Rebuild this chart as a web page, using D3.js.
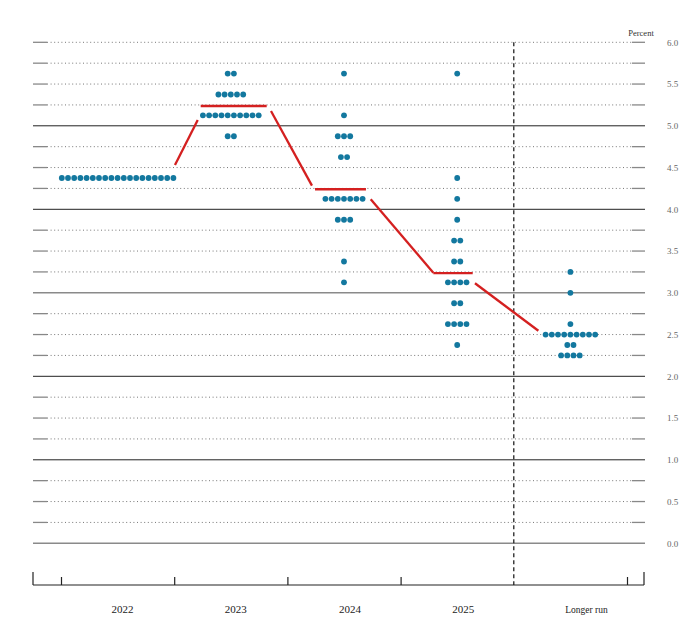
<!DOCTYPE html>
<html>
<head>
<meta charset="utf-8">
<script src="https://cdn.jsdelivr.net/npm/d3@7"></script>
<style>
  html, body { margin: 0; padding: 0; background: #fff; }
  svg { display: block; }
</style>
</head>
<body>
<svg id="chart" width="699" height="630"></svg>
<script>
// ---------- DATA ----------
const categories = ["2022", "2023", "2024", "2025", "Longer run"];

// Participant projections: rate levels and number of participants at each level
const rates2022 = [4.375];
const counts2022 = [19];
const rates2023 = [5.625, 5.375, 5.125, 4.875];
const counts2023 = [2, 5, 10, 2];
const rates2024 = [5.625, 5.125, 4.875, 4.625, 4.125, 3.875, 3.375, 3.125];
const counts2024 = [1, 1, 3, 2, 7, 3, 1, 1];
const rates2025 = [5.625, 4.375, 4.125, 3.875, 3.625, 3.375, 3.125, 2.875, 2.625, 2.375];
const counts2025 = [1, 1, 1, 1, 2, 2, 4, 2, 4, 1];
const ratesLR = [3.25, 3.0, 2.625, 2.5, 2.375, 2.25];
const countsLR = [1, 1, 1, 9, 2, 4];

// Median line (red): x in category units (0 = start of 2022, 1 = start of 2023, ...), y in percent
const medianSegX = [[1.007, 1.208], [1.234, 1.817], [1.855, 2.217], [2.244, 2.694], [2.736, 3.289], [3.289, 3.637], [3.657, 4.217]];
const medianSegY = [[4.531, 5.070], [5.237, 5.237], [5.177, 4.283], [4.240, 4.240], [4.120, 3.241], [3.235, 3.235], [3.114, 2.546]];

// Axis ticks
const yTickLabels = ["0.0","0.5","1.0","1.5","2.0","2.5","3.0","3.5","4.0","4.5","5.0","5.5","6.0"];
const gridValues = d3.range(0, 25).map(i => i * 0.25);

// ---------- DRAW ----------
const svg = d3.select("#chart");
const x = d3.scaleLinear().domain([0, 5]).range([61, 627]);
const y = d3.scaleLinear().domain([0, 6]).range([543.3, 42.3]);

const gridLeft = 33, gridRight = 645;

// Gridlines
const grid = svg.append("g");
gridValues.forEach(v => {
  const yy = y(v);
  const isInt = Math.abs(v - Math.round(v)) < 1e-9;
  if (isInt && v < 6) {
    const light = (v === 3 || v === 0);
    grid.append("line")
      .attr("x1", gridLeft).attr("x2", gridRight)
      .attr("y1", yy).attr("y2", yy)
      .attr("stroke", light ? "#8a8a8a" : "#222")
      .attr("stroke-width", light ? 1.4 : 1);
  } else {
    grid.append("line")
      .attr("x1", gridLeft + 14).attr("x2", gridRight - 13)
      .attr("y1", yy).attr("y2", yy)
      .attr("stroke", "#777")
      .attr("stroke-width", 1)
      .attr("stroke-dasharray", "1,2.6");
    grid.append("line")
      .attr("x1", gridLeft).attr("x2", gridLeft + 14)
      .attr("y1", yy).attr("y2", yy)
      .attr("stroke", "#888").attr("stroke-width", 1.3);
    grid.append("line")
      .attr("x1", gridRight - 13).attr("x2", gridRight)
      .attr("y1", yy).attr("y2", yy)
      .attr("stroke", "#888").attr("stroke-width", 1.3);
  }
});

// Right axis labels
const yAxis = d3.axisRight(y)
  .tickValues(yTickLabels.map(Number))
  .tickFormat(d3.format(".1f"))
  .tickSize(0);
const yAxisG = svg.append("g").attr("transform", "translate(667,0)").call(yAxis);
yAxisG.select(".domain").remove();
yAxisG.selectAll("text")
  .attr("x", 0)
  .attr("font-family", "Liberation Serif, serif")
  .attr("font-size", 9)
  .attr("fill", "#666");

svg.append("text")
  .attr("x", 641).attr("y", 35.5)
  .attr("text-anchor", "middle")
  .attr("font-family", "Liberation Serif, serif")
  .attr("font-size", 8.5)
  .attr("fill", "#333")
  .text("Percent");

// Vertical dashed separator before "Longer run"
svg.append("line")
  .attr("x1", x(4)).attr("x2", x(4))
  .attr("y1", y(6)).attr("y2", 585)
  .attr("stroke", "#111")
  .attr("stroke-width", 1.2)
  .attr("stroke-dasharray", "4,3");

// Bottom axis
const baseY = 585;
svg.append("line")
  .attr("x1", gridLeft).attr("x2", gridRight - 1)
  .attr("y1", baseY).attr("y2", baseY)
  .attr("stroke", "#222").attr("stroke-width", 1.2);
[gridLeft, gridRight - 1].forEach(xx => {
  svg.append("line")
    .attr("x1", xx).attr("x2", xx)
    .attr("y1", baseY - 13).attr("y2", baseY)
    .attr("stroke", "#222").attr("stroke-width", 1.2);
});
const xAxis = d3.axisBottom(x).tickValues([0, 1, 2, 3, 5]).tickSize(-8).tickFormat("");
const xAxisG = svg.append("g").attr("transform", `translate(0,${baseY})`).call(xAxis);
xAxisG.select(".domain").remove();
xAxisG.selectAll("line").attr("stroke", "#222").attr("stroke-width", 1.2);

// Category labels
const labelDx = [5, 5, 6, 6, 16];
svg.append("g").selectAll("text")
  .data(categories)
  .join("text")
  .attr("x", (d, i) => x(i + 0.5) + labelDx[i])
  .attr("y", 613)
  .attr("text-anchor", "middle")
  .attr("font-family", "Liberation Serif, serif")
  .attr("font-size", d => d === "Longer run" ? 9.5 : 11)
  .attr("fill", "#222")
  .text(d => d);

// Red median line
svg.append("g").selectAll("line")
  .data(medianSegX.map((sx, i) => ({ sx, sy: medianSegY[i] })))
  .join("line")
  .attr("x1", d => x(d.sx[0])).attr("x2", d => x(d.sx[1]))
  .attr("y1", d => y(d.sy[0])).attr("y2", d => y(d.sy[1]))
  .attr("stroke", "#d42020")
  .attr("stroke-width", 2.3);

// Dots
const dotSets = [
  [rates2022, counts2022],
  [rates2023, counts2023],
  [rates2024, counts2024],
  [rates2025, counts2025],
  [ratesLR, countsLR]
];
const spacing = 6.2;
const dots = [];
dotSets.forEach(([rates, counts], ci) => {
  rates.forEach((r, ri) => {
    const n = counts[ri];
    for (let j = 0; j < n; j++) {
      dots.push({ ci, r, off: (j - (n - 1) / 2) * spacing });
    }
  });
});
svg.append("g").selectAll("circle")
  .data(dots)
  .join("circle")
  .attr("cx", d => x(d.ci + 0.5) + d.off)
  .attr("cy", d => y(d.r))
  .attr("r", 2.9)
  .attr("fill", "#13789f");
</script>
</body>
</html>
